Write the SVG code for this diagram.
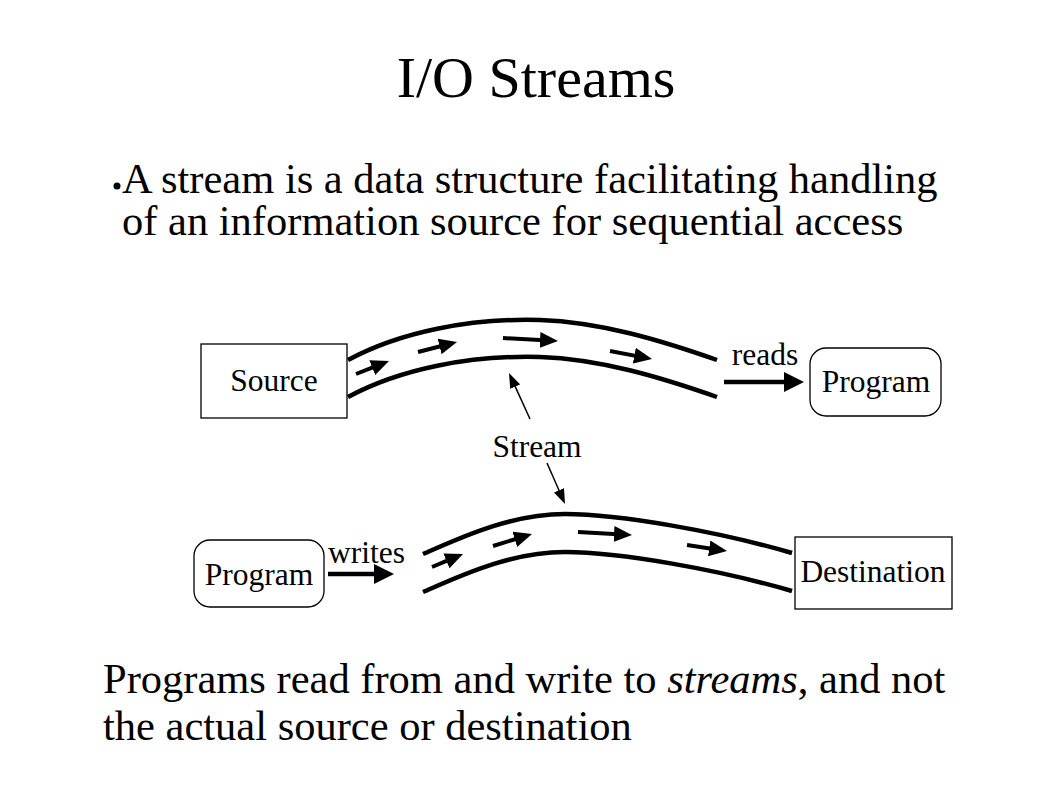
<svg xmlns="http://www.w3.org/2000/svg" width="1058" height="793" viewBox="0 0 1058 793">
  <style>
    text { font-family: "Liberation Serif", "Times New Roman", serif; fill: #000; }
    .title { font-size: 58px; text-anchor: middle; }
    .body { font-size: 42.5px; }
    .lbl { font-size: 31.5px; text-anchor: middle; }
    .box { fill: #fff; stroke: #000; stroke-width: 1.3; }
    .tube { fill: none; stroke: #000; stroke-width: 4.5; }
    .flow { fill: none; stroke: #000; stroke-width: 4; marker-end: url(#head); }
    .act { fill: none; stroke: #000; stroke-width: 4.5; marker-end: url(#bighead); }
    .ptr { fill: none; stroke: #000; stroke-width: 1.5; marker-end: url(#thinhead); }
  </style>
  <defs>
    <marker id="head" markerUnits="userSpaceOnUse" markerWidth="18" markerHeight="16" refX="4" refY="8" orient="auto">
      <path d="M0,0 L18,8 L0,16 z" fill="#000"/>
    </marker>
    <marker id="bighead" markerUnits="userSpaceOnUse" markerWidth="20" markerHeight="20" refX="4" refY="10" orient="auto">
      <path d="M0,0 L20,10 L0,20 z" fill="#000"/>
    </marker>
    <marker id="thinhead" markerUnits="userSpaceOnUse" markerWidth="15" markerHeight="11" refX="3" refY="5.5" orient="auto">
      <path d="M0,0 L15,5.5 L0,11 z" fill="#000"/>
    </marker>
  </defs>

  <rect width="1058" height="793" fill="#fff"/>

  <text class="title" x="536" y="97">I/O Streams</text>

  <circle cx="117" cy="186" r="3.5" fill="#000"/>
  <text class="body" x="122" y="193">A stream is a data structure facilitating handling</text>
  <text class="body" x="122" y="235">of an information source for sequential access</text>

  <!-- streams and arrows -->
  <g id="connectors">
    <!-- upper stream tube -->
    <path class="tube" d="M348,360 C400,332 470,318 540,320 C600,322 660,340 717,360"/>
    <path class="tube" d="M348,397 C400,369 470,355 540,357 C600,359 660,377 717,397"/>
    <line class="flow" x1="356" y1="374" x2="375.98" y2="366.13"/>
    <line class="flow" x1="418" y1="352" x2="443.44" y2="345.48"/>
    <line class="flow" x1="503" y1="338" x2="544.02" y2="340.24"/>
    <line class="flow" x1="610" y1="351" x2="638.25" y2="356.38"/>

    <!-- lower stream tube -->
    <path class="tube" d="M423,554 C460,538 510,514 565,514 C620,514 720,532 792,553"/>
    <path class="tube" d="M423,592 C460,576 510,552 565,552 C620,552 720,570 792,591"/>
    <line class="flow" x1="432" y1="567" x2="450.09" y2="559.41"/>
    <line class="flow" x1="493" y1="546" x2="518.62" y2="538.12"/>
    <line class="flow" x1="578" y1="532" x2="618.02" y2="534.22"/>
    <line class="flow" x1="687" y1="545" x2="713.16" y2="548.92"/>

    <!-- reads / writes -->
    <line class="act" x1="724" y1="382" x2="788" y2="382"/>
    <line class="act" x1="328" y1="574" x2="378" y2="574"/>

    <!-- Stream label pointers -->
    <line class="ptr" x1="530" y1="419" x2="513.98" y2="383.92"/>
    <line class="ptr" x1="547" y1="463" x2="560.18" y2="493.01"/>
  </g>

  <g id="source">
    <rect class="box" x="201" y="344" width="146" height="74"/>
    <text class="lbl" x="274" y="391">Source</text>
  </g>
  <g id="program-read">
    <rect class="box" x="810" y="348" width="131" height="68" rx="16"/>
    <text class="lbl" x="876" y="392">Program</text>
  </g>
  <g id="program-write">
    <rect class="box" x="194" y="540" width="130" height="67" rx="16"/>
    <text class="lbl" x="259" y="585">Program</text>
  </g>
  <g id="destination">
    <rect class="box" x="795" y="537" width="157" height="72"/>
    <text class="lbl" x="873" y="582">Destination</text>
  </g>

  <g id="labels">
    <text class="lbl" x="765" y="365">reads</text>
    <text class="lbl" x="366.5" y="563">writes</text>
    <text class="lbl" x="537" y="457">Stream</text>
  </g>

  <text class="body" x="103" y="693">Programs read from and write to <tspan font-style="italic">streams</tspan>, and not</text>
  <text class="body" x="103" y="740">the actual source or destination</text>
</svg>
